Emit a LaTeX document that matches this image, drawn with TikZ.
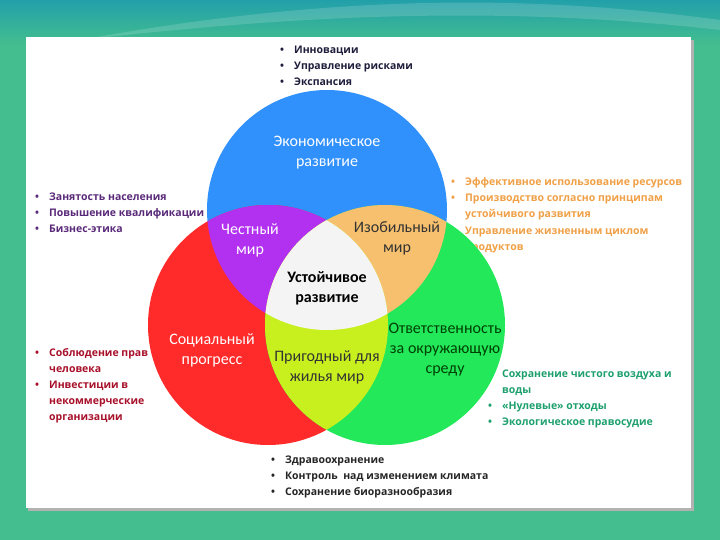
\documentclass[tikz,border=0pt]{standalone}
\usepackage{fontspec}
\setmainfont{Carlito}
\newfontfamily\listfont{Open Sans}
\usetikzlibrary{calc}

\definecolor{bgreen}{RGB}{68,190,142}
\definecolor{bteal}{RGB}{34,160,170}
\definecolor{cblue}{RGB}{48,144,252}
\definecolor{cred}{RGB}{255,42,42}
\definecolor{cgreen}{RGB}{34,232,90}
\definecolor{cpurple}{RGB}{178,48,240}
\definecolor{corange}{RGB}{246,192,110}
\definecolor{clime}{RGB}{200,240,30}
\definecolor{ccore}{RGB}{244,244,244}
\definecolor{tnavy}{RGB}{30,30,60}
\definecolor{tpurple}{RGB}{90,42,122}
\definecolor{torange}{RGB}{240,160,70}
\definecolor{tred}{RGB}{168,16,42}
\definecolor{tgreen}{RGB}{30,160,110}
\definecolor{tdark}{RGB}{37,37,37}

\newcommand{\bulletrows}[1]{{\listfont\fontsize{10.5}{16}\selectfont\bfseries
  \begin{tabular}[t]{@{}l@{\hspace{10pt}}l@{}}#1\end{tabular}}}

\begin{document}
\begin{tikzpicture}[x=1pt,y=-1pt,
    lst/.style={anchor=base west,inner sep=0pt},
    lbl/.style={align=center,font=\fontsize{16}{20}\selectfont,inner sep=0pt}]
    \useasboundingbox (0,0) rectangle (720,540);
    \fill[bgreen] (0,0) rectangle (720,540);
    \shade[top color=bteal,bottom color=bgreen] (0,0) rectangle (720,45);
    \fill[white,opacity=0.15] (80,40) .. controls (300,0) and (500,-10) .. (720,20) -- (720,30) .. controls (500,5) and (300,15) .. (80,40);
    \fill[black!30] (28,40) rectangle (694,511);
    \fill[white] (26,37) rectangle (691,508);

    % lists behind the circles
    \node[lst,text=tnavy] (econlist) at (280,54) {\bulletrows{• & Инновации\\ • & Управление рисками\\ • & Экспансия}};
    \node[lst,text=tpurple] (fairlist) at (35,201) {\bulletrows{• & Занятость населения\\ • & Повышение квалификации\\ • & Бизнес-этика}};
    \node[lst,text=torange] (richlist) at (451,186) {\bulletrows{• & Эффективное использование ресурсов\\ • & Производство согласно принципам\\ & устойчивого развития\\ • & Управление жизненным циклом\\ & продуктов}};
    \node[lst,text=tred] (soclist) at (35,356) {\bulletrows{• & Соблюдение прав\\ & человека\\ • & Инвестиции в\\ & некоммерческие\\ & организации}};
    \node[lst,text=tgreen] (ecolist) at (488,377) {\bulletrows{• & Сохранение чистого воздуха и\\ & воды\\ • & «Нулевые» отходы\\ • & Экологическое правосудие}};
    \node[lst,text=tdark] (lifelist) at (271,463) {\bulletrows{• & Здравоохранение\\ • & Контроль~ над изменением климата\\ • & Сохранение биоразнообразия}};

    % circles and overlaps
    \coordinate (B) at (327,210);
    \coordinate (R) at (268,325);
    \coordinate (G) at (385,325);
    \fill[cblue] (B) circle (120);
    \fill[cred] (R) circle (120);
    \fill[cgreen] (G) circle (120);
    \begin{scope}
        \clip (B) circle (120);
        \fill[cpurple] (R) circle (120);
        \fill[corange] (G) circle (120);
    \end{scope}
    \begin{scope}
        \clip (R) circle (120);
        \fill[clime] (G) circle (120);
        \clip (B) circle (120);
        \fill[ccore] (G) circle (120);
    \end{scope}

    \node[lbl,text=white] (econ) at (327,153) {Экономическое\\развитие};
    \node[lbl,text=white] (fair) at (250,240) {Честный\\мир};
    \node[lbl,text=black!80] (rich) at (397,238) {Изобильный\\мир};
    \node[lbl,text=black,font=\fontsize{16}{20}\selectfont\bfseries] (core) at (327,288) {Устойчивое\\развитие};
    \node[lbl,text=white] (soc) at (212,350) {Социальный\\прогресс};
    \node[lbl,text=black!80] (life) at (327,367) {Пригодный для\\жилья мир};
    \node[lbl,text=green!25!black] (eco) at (445,350) {Ответственность\\за окружающую\\среду};
\end{tikzpicture}
\end{document}
